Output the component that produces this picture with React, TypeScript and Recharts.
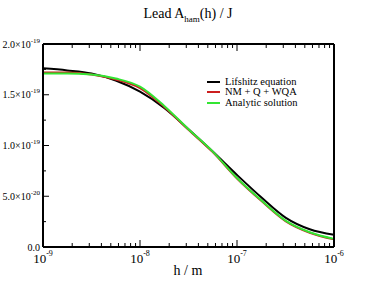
import { LineChart, Line, XAxis, YAxis, Legend } from 'recharts';

// h in metres, log-spaced every quarter decade
const hValues = [1e-9, 1.778e-9, 3.162e-9, 5.623e-9, 1e-8, 1.778e-8, 3.162e-8, 5.623e-8, 1e-7, 1.778e-7, 3.162e-7, 5.623e-7, 1e-6];
// A_ham in units of 1e-19 J
const lifshitz = [1.76, 1.74, 1.71, 1.64, 1.53, 1.37, 1.16, 0.94, 0.71, 0.49, 0.29, 0.175, 0.12];
const nmQWqa = [1.72, 1.72, 1.7, 1.65, 1.565, 1.38, 1.155, 0.935, 0.675, 0.455, 0.255, 0.14, 0.075];
const analytic = [1.71, 1.71, 1.7, 1.66, 1.58, 1.39, 1.16, 0.94, 0.68, 0.46, 0.26, 0.145, 0.08];

const xMajorTicks = [1e-9, 1e-8, 1e-7, 1e-6];
const xExponents = ['-9', '-8', '-7', '-6'];
const xMultipliers = [2, 3, 4, 5, 6, 7, 8, 9];

const yTicks = [0, 0.25, 0.5, 0.75, 1, 1.25, 1.5, 1.75, 2];
const yMajorTicks = [0, 0.5, 1, 1.5, 2];
const yMantissas = ['0.0', '5.0', '1.0', '1.5', '2.0'];
const yExponents = ['', '-20', '-19', '-19', '-19'];

const series = [
  { key: 'lifshitz', name: 'Lifshitz equation', color: '#000000' },
  { key: 'nm', name: 'NM + Q + WQA', color: '#cc1f1f' },
  { key: 'analytic', name: 'Analytic solution', color: '#33e533' },
];

const data = hValues.map((h, i) => ({
  h,
  lifshitz: lifshitz[i],
  nm: nmQWqa[i],
  analytic: analytic[i],
}));

const xTicks = [
  ...xMajorTicks,
  ...xMajorTicks.slice(0, 3).flatMap((d) => xMultipliers.map((m) => m * d)),
].sort((a, b) => a - b);

const majorIndex = (list: number[], v: number) =>
  list.findIndex((t) => Math.abs(t - v) <= Math.abs(t) * 1e-6 + 1e-12);

const BottomTick = ({ x, y, payload }: any) => {
  const i = majorIndex(xMajorTicks, payload.value);
  return (
    <g>
      <line x1={x} x2={x} y1={y} y2={y - (i >= 0 ? 7 : 4)} stroke="#000" strokeWidth={1} />
      {i >= 0 && (
        <text x={x} y={y + 16} textAnchor="middle" fontSize={13} fill="#000">
          10<tspan dy={-7} fontSize={8}>{xExponents[i]}</tspan>
        </text>
      )}
    </g>
  );
};

const TopTick = ({ x, y, payload }: any) => {
  const i = majorIndex(xMajorTicks, payload.value);
  return <line x1={x} x2={x} y1={y} y2={y + (i >= 0 ? 7 : 4)} stroke="#000" strokeWidth={1} />;
};

const LeftTick = ({ x, y, payload }: any) => {
  const i = majorIndex(yMajorTicks, payload.value);
  return (
    <g>
      <line x1={x} x2={x + (i >= 0 ? 6 : 3)} y1={y} y2={y} stroke="#000" strokeWidth={1} />
      {i >= 0 && (
        <text x={x - 3} y={y + 3.5} textAnchor="end" fontSize={10} fill="#000">
          {yMantissas[i]}
          {yExponents[i] && (
            <>
              ×10<tspan dy={-5} fontSize={7}>{yExponents[i]}</tspan>
            </>
          )}
        </text>
      )}
    </g>
  );
};

const RightTick = ({ x, y, payload }: any) => {
  const i = majorIndex(yMajorTicks, payload.value);
  return <line x1={x} x2={x - (i >= 0 ? 6 : 3)} y1={y} y2={y} stroke="#000" strokeWidth={1} />;
};

const renderLegend = () => (
  <div style={{ fontSize: 10.5, lineHeight: '10.5px' }}>
    {series.map((s) => (
      <div key={s.key} style={{ display: 'flex', alignItems: 'center', height: 10.5, whiteSpace: 'nowrap' }}>
        <span style={{ display: 'inline-block', width: 13, height: 2, background: s.color, marginRight: 5 }} />
        <span>{s.name}</span>
      </div>
    ))}
  </div>
);

export default function App() {
  return (
    <div
      style={{
        position: 'absolute',
        left: 0,
        top: 0,
        width: 376,
        height: 291,
        background: '#fff',
        fontFamily: '"Liberation Serif", "DejaVu Serif", serif',
        color: '#000',
      }}
    >
      <div style={{ position: 'absolute', left: 0, width: 376, top: 6, textAlign: 'center', fontSize: 14 }}>
        Lead A<sub style={{ fontSize: 9 }}>ham</sub>(h) / J
      </div>
      <LineChart width={376} height={291} data={data} margin={{ top: 43, right: 41, bottom: 43, left: 42 }}>
        <XAxis
          dataKey="h"
          type="number"
          scale="log"
          domain={[1e-9, 1e-6]}
          ticks={xTicks}
          interval={0}
          height={1}
          tickSize={0}
          tickMargin={0}
          tickLine={false}
          tick={<BottomTick />}
          axisLine={{ stroke: '#000', strokeWidth: 2 }}
        />
        <XAxis
          xAxisId="top"
          orientation="top"
          dataKey="h"
          type="number"
          scale="log"
          domain={[1e-9, 1e-6]}
          ticks={xTicks}
          interval={0}
          height={1}
          tickSize={0}
          tickMargin={0}
          tickLine={false}
          tick={<TopTick />}
          axisLine={{ stroke: '#000', strokeWidth: 2 }}
        />
        <YAxis
          type="number"
          domain={[0, 2]}
          ticks={yTicks}
          interval={0}
          width={1}
          tickSize={0}
          tickMargin={0}
          tickLine={false}
          tick={<LeftTick />}
          axisLine={{ stroke: '#000', strokeWidth: 2 }}
        />
        <YAxis
          yAxisId="right"
          orientation="right"
          type="number"
          domain={[0, 2]}
          ticks={yTicks}
          interval={0}
          width={1}
          tickSize={0}
          tickMargin={0}
          tickLine={false}
          tick={<RightTick />}
          axisLine={{ stroke: '#000', strokeWidth: 2 }}
        />
        <Legend
          layout="vertical"
          align="center"
          verticalAlign="middle"
          content={renderLegend}
          wrapperStyle={{ left: 207, top: 76.5, width: 'auto', height: 'auto' }}
        />
        {series.map((s) => (
          <Line
            key={s.key}
            dataKey={s.key}
            name={s.name}
            type="monotone"
            stroke={s.color}
            strokeWidth={2}
            dot={false}
            isAnimationActive={false}
          />
        ))}
      </LineChart>
      <div style={{ position: 'absolute', left: 0, width: 376, top: 263, textAlign: 'center', fontSize: 14 }}>
        h / m
      </div>
    </div>
  );
}
